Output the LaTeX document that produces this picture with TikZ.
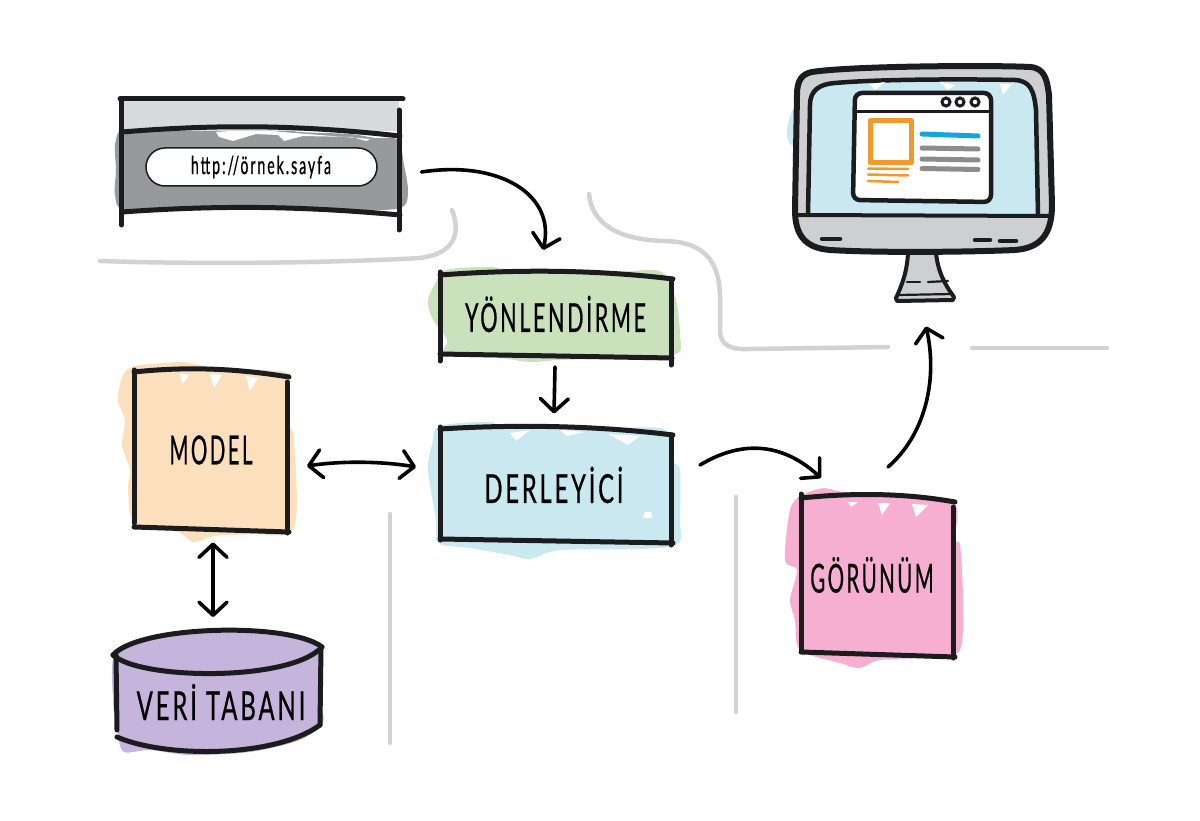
\documentclass[tikz,border=0pt]{standalone}
\usepackage{fontspec}
\usepackage{graphicx}
\usetikzlibrary{arrows.meta,calc}
\newfontfamily\handfont[FakeStretch=0.58,LetterSpace=7,FakeBold=0.5]{Lato}
\newfontfamily\urlfont[FakeStretch=0.56,LetterSpace=8,FakeBold=0.7]{Lato}
\newcommand{\widthfit}[2]{\scalebox{#1}[1]{#2}}
\definecolor{inkc}{HTML}{1C1C1E}
\definecolor{partition}{HTML}{D2D2D2}
\definecolor{routerc}{HTML}{C9E2BC}
\definecolor{ctrlc}{HTML}{C9E8EF}
\definecolor{modelc}{HTML}{FCDFBC}
\definecolor{viewc}{HTML}{F6AFD0}
\definecolor{dbc}{HTML}{C5B4DB}
\definecolor{barc}{HTML}{D9DADB}
\definecolor{chromec}{HTML}{98999B}
\definecolor{bezelc}{HTML}{CDCFD1}
\definecolor{orangec}{HTML}{F0992F}
\definecolor{linkc}{HTML}{14A5DC}
\definecolor{textc}{HTML}{8C8C8E}
\tikzset{
  ink/.style={draw=inkc,line width=5pt,line cap=round,line join=round},
  thinink/.style={draw=inkc,line width=4pt,line cap=round,line join=round},
  wall/.style={draw=partition,line width=4.5pt,line cap=round},
  flow/.style={draw=black,line width=3.6pt,line cap=round,-{Straight Barb[length=13pt,width=28pt,line width=3.6pt,round]}},
  flowboth/.style={draw=black,line width=3.6pt,line cap=round,{Straight Barb[length=13pt,width=28pt,line width=3.6pt,round]}-{Straight Barb[length=13pt,width=28pt,line width=3.6pt,round]}},
  frame/.style={inner sep=0pt,outer sep=0pt,minimum width=#1},
  title/.style={inner sep=0pt,outer sep=0pt,font=\handfont\fontsize{40}{42}\selectfont,text=black},
  nick/.style={fill=white,draw=none},
}
\begin{document}
\begin{tikzpicture}[x=1pt,y=-1pt]
\useasboundingbox[fill=white] (0,0) rectangle (1200,821);

% room partitions
\draw[wall] (100,261) .. controls (220,265) and (350,262) .. (420,258)
  .. controls (452,254) and (462,236) .. (452,210);
\draw[wall] (589,194) .. controls (592,225) and (620,240) .. (665,241)
  .. controls (705,242) and (719,262) .. (720,295) -- (720,330)
  .. controls (720,345) and (730,350) .. (750,349) -- (888,347);
\draw[wall] (972,348) -- (1107,348);
\draw[wall] (390,514) -- (390,743);
\draw[wall] (736,497) -- (736,712);

% colour washes behind the boxes
\fill[chromec] plot[smooth cycle,tension=.5] coordinates {(122,128)(150,125)(200,128)(230,130)(270,127)(300,132)(350,134)(375,138)(398,140)(404,165)(408,190)(404,206)(380,210)(300,208)(200,206)(126,210)(115,195)(116,170)(115,145)};
\fill[routerc] plot[smooth cycle,tension=.5] coordinates {(445,270)(490,267)(520,272)(545,269)(600,273)(650,270)(665,275)(676,300)(680,335)(676,354)(620,358)(560,360)(530,362)(500,358)(445,355)(447,340)(432,318)(428,300)(436,282)};
\fill[ctrlc] plot[smooth cycle,tension=.5] coordinates {(440,426)(490,422)(500,428)(545,424)(600,428)(660,428)(670,440)(674,462)(680,470)(680,520)(678,544)(640,549)(560,550)(530,559)(510,555)(470,548)(438,543)(436,520)(428,470)(432,445)};
\fill[modelc] plot[smooth cycle,tension=.5] coordinates {(135,366)(165,363)(185,362)(215,368)(285,372)(289,385)(290,425)(294,440)(294,528)(250,534)(215,536)(193,542)(178,532)(135,525)(128,490)(130,470)(122,445)(125,420)(118,400)(123,375)};
\fill[viewc] plot[smooth cycle,tension=.5] coordinates {(802,495)(825,488)(845,492)(950,500)(954,540)(960,545)(963,600)(960,650)(935,657)(880,660)(860,668)(840,663)(800,650)(795,620)(790,600)(797,570)(785,560)(790,510)};
\fill[dbc] plot[smooth cycle,tension=.5] coordinates {(116,650)(160,636)(218,632)(280,636)(320,648)(320,700)(323,722)(300,740)(250,752)(190,755)(150,750)(124,752)(118,735)(113,700)};
\fill[ctrlc] plot[smooth cycle,tension=.5] coordinates {(805,100)(792,112)(787,135)(800,148)(880,150)(880,100)};

% white flecks left by the colouring
\fill[nick] (216,132) -- (257,129) -- (282,132) -- (370,139) -- (366,141) -- (352,137) -- (303,136) -- (284,141) -- (278,135) -- (256,134) -- (233,141) -- (219,137) -- cycle;
\fill[nick] (510,433) -- (530,430) -- (516,441) -- cycle;
\fill[nick] (560,430) -- (585,432) -- (567,436) -- cycle;
\fill[nick] (608,434) -- (640,436) -- (628,445) -- cycle;
\fill[nick] (645,512) -- (651,512) -- (652,518) -- (643,518) -- cycle;
\fill[nick] (180,374) -- (190,375) -- (182,384) -- cycle;
\fill[nick] (210,374) -- (222,375) -- (214,388) -- cycle;
\fill[nick] (246,376) -- (258,378) -- (250,391) -- cycle;
\fill[nick] (848,502) -- (858,502) -- (851,507) -- cycle;
\fill[nick] (878,503) -- (890,503) -- (882,515) -- cycle;
\fill[nick] (912,504) -- (928,505) -- (916,517) -- cycle;

% browser window
\node[frame=279pt,minimum height=126pt] (browser) at (260,162) {};
\fill[barc] (122,100) rectangle (399,131);
\draw[ink] (120,99) -- (403,99);
\draw[ink] (121.5,99) -- (121.5,225);
\draw[ink] (399,110) -- (399,230);
\draw[ink] (122,132) .. controls (220,124) and (300,125) .. (400,136);
\draw[ink] (122,212) .. controls (220,205) and (300,206) .. (400,215);
\node[draw=inkc,fill=white,line width=1.5pt,rounded corners=19pt,minimum width=231pt,minimum height=38pt,inner sep=0pt] (address) at (261.5,167) {};
\node[inner sep=0pt,font=\urlfont\fontsize{25}{27}\selectfont,text=black] (urltext) at (261,167) {http://örnek.sayfa};

% router box
\node[frame=232pt,minimum height=86pt] (router) at (556,316) {};
\draw[ink] (440,272) -- (440,361);
\draw[ink] (671,280) -- (671,365);
\draw[ink] (440,275) .. controls (520,269) and (600,270) .. (673,279);
\draw[ink] (440,354) -- (672,358);
\node[title] (routertext) at (555.5,314) {\widthfit{.93}{YÖNLENDİRME}};

% controller box
\node[frame=232pt,minimum height=115pt] (controller) at (556,485) {};
\draw[ink] (440,427) -- (440,540);
\draw[ink] (671,435) -- (671,545);
\draw[ink] (440,429) .. controls (520,424) and (600,426) .. (673,435);
\draw[ink] (440,539) -- (673,543);
\node[title] (controllertext) at (554,485) {\widthfit{1.02}{DERLEYİCİ}};

% model box
\node[frame=154pt,minimum height=155pt] (model) at (211,450) {};
\draw[ink] (134,370) -- (134,523);
\draw[ink] (287,382) -- (287,533);
\draw[ink] (134,372) .. controls (190,366) and (240,369) .. (289,377);
\draw[ink] (134,527) -- (289,532);
\node[title] (modeltext) at (211,450) {\widthfit{.88}{MODEL}};

% view box
\node[frame=153pt,minimum height=158pt] (view) at (877,576) {};
\draw[ink] (801,494) -- (801,650);
\draw[ink] (953,507) -- (953,658);
\draw[ink] (801,498) .. controls (860,492) and (910,494) .. (955,502);
\draw[ink] (801,652) -- (955,657);
\node[title] (viewtext) at (872,575) {\widthfit{.88}{GÖRÜNÜM}};

% database drum
\node[frame=208pt,minimum height=122pt] (database) at (218,693) {};
\draw[ink] (113,655) .. controls (140,625) and (290,622) .. (322,647);
\draw[ink] (113,655) .. controls (140,680) and (290,682) .. (322,647);
\draw[ink] (116,655) -- (117,730);
\draw[ink] (321,647) -- (320,725);
\draw[ink] (117,737) .. controls (165,758) and (275,758) .. (320,725);
\node[title] (databasetext) at (221,702) {\widthfit{1.03}{VERİ TABANI}};

% monitor
\node[frame=258pt,minimum height=237pt] (monitor) at (923,184) {};
\filldraw[fill=bezelc,thinink] (908,253) .. controls (907,272) and (902,285) .. (896,298) -- (897,301) -- (953,300) -- (954,297) .. controls (945,285) and (938,272) .. (936,253) -- cycle;
\draw[inkc,line width=2.2pt,line cap=round] (907,282) -- (920,282);
\draw[inkc,line width=2.2pt,line cap=round] (928,282) -- (948,281);
\draw[inkc,line width=2.2pt] (898,295) -- (953,294);
\filldraw[fill=bezelc,ink,line width=6pt] (812,72) .. controls (850,66) and (990,65) .. (1030,67)
  .. controls (1045,68) and (1047,80) .. (1049,95)
  -- (1052,205) .. controls (1052,235) and (1040,248) .. (1015,250)
  .. controls (970,252) and (880,253) .. (830,250)
  .. controls (805,248) and (795,235) .. (795,210)
  -- (797,95) .. controls (797,80) and (802,74) .. (812,72) -- cycle;
\filldraw[fill=ctrlc,thinink,line width=4.5pt] (808,215) -- (810,105) .. controls (810,90) and (820,84) .. (835,83)
  .. controls (880,79) and (970,79) .. (1015,80)
  .. controls (1030,81) and (1034,90) .. (1036,110) -- (1038,215);
\fill[nick] (870,84) -- (885,82) -- (875,90) -- cycle;
\fill[nick] (940,82) -- (955,85) -- (948,90) -- cycle;
\fill[nick] (1000,84) -- (1012,84) -- (1003,95) -- cycle;
\draw[thinink,line width=4pt] (799,215) -- (1050,216);
\draw[ink,line width=4.5pt] (822,239) -- (840,239);
\draw[ink,line width=4.5pt] (975,240) -- (990,240);
\draw[ink,line width=4.5pt] (1000,241) -- (1016,241);
\filldraw[fill=white,thinink,line width=4.5pt,rounded corners=7pt] (855,93) -- (991,93) -- (991,202) -- (853,200) -- cycle;
\draw[thinink,line width=3pt] (855,112) -- (990,112);
\foreach \cx in {946,960,975} \draw[inkc,line width=3pt,fill=white] (\cx,102) circle (4pt);
\draw[orangec,line width=5pt,line join=round] (870,121) rectangle (911,163);
\draw[orangec,line width=2.5pt,line cap=round] (868,168.5) -- (908,169);
\draw[orangec,line width=2.5pt,line cap=round] (868,174.5) -- (908,175.5);
\draw[orangec,line width=2.5pt,line cap=round] (868,181) -- (898,182);
\draw[linkc,line width=5pt,line cap=round] (922,134) -- (978,136);
\foreach \ly in {148,159,168.5} \draw[textc,line width=5pt,line cap=round] (922,\ly) -- (978,\ly+1);

% request flow
\draw[flow] ($(browser.east)+(22,10)$) .. controls (500,160) and (556,195) .. ($(router.north)+(-13,-23)$);
\draw[flow] ($(router.south)+(-1,8)$) -- ($(controller.north)+(-2,-14)$);
\draw[flowboth] ($(model.east)+(19,16)$) .. controls (340,461) and (380,461) .. ($(controller.west)+(-24,-18)$);
\draw[flowboth] ($(model.south)+(2,15)$) -- ($(database.north)+(-5,-15)$);
\draw[flow] ($(controller.east)+(28,-20)$) .. controls (745,438) and (785,445) .. ($(view.north)+(-56,-19)$);
\draw[flow] ($(view.north)+(11,-30)$) .. controls (925,435) and (938,380) .. ($(monitor.south)+(3,24)$);
\end{tikzpicture}
\end{document}
